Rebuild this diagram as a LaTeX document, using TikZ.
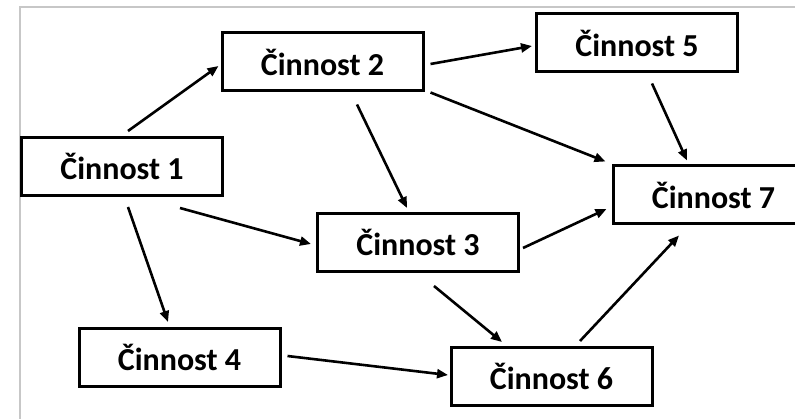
\documentclass[tikz,border=0pt]{standalone}
\usepackage{fontspec}
\setmainfont{Carlito}
\usetikzlibrary{arrows.meta}
\begin{document}
\begin{tikzpicture}[x=1pt,y=-1pt,
  actbox/.style={draw=black,line width=3pt,fill=white,minimum width=201pt,
    minimum height=58pt,inner sep=0pt,font=\fontsize{32}{38}\selectfont\bfseries},
  link/.style={draw=black,line width=2.6pt,-{Triangle[length=11pt,width=9pt]}},
  frameline/.style={draw=black!22,line width=1.6pt}]
  \useasboundingbox (0,0) rectangle (795,419);
  \fill[white] (0,0) rectangle (795,419);
  % outer frame (top and left edges)
  \coordinate (fr1) at (20,419);
  \coordinate (fr2) at (20,7);
  \coordinate (fr3) at (795,7);
  \draw[frameline] (fr1) -- (fr2) -- (fr3);

  % activities
  \node[actbox] (c1) at (122,166.5) {Činnost 1};
  \node[actbox] (c2) at (322.5,62) {Činnost 2};
  \node[actbox] (c3) at (418,242.5) {Činnost 3};
  \node[actbox] (c4) at (179.5,357.5) {Činnost 4};
  \node[actbox] (c5) at (637,43) {Činnost 5};
  \node[actbox] (c6) at (551.5,376.5) {Činnost 6};
  \node[actbox] (c7) at (713.5,195) {Činnost 7};

  % dependencies
  \draw[link] ([shift={(6,-5)}]c1.north) -- ([shift={(-2,4)}]c2.west);
  \draw[link] ([shift={(6,10)}]c1.south) -- ([shift={(-11.5,-5)}]c4.north);
  \draw[link] ([shift={(58,11)}]c1.south) -- ([shift={(-5,1.5)}]c3.west);
  \draw[link] ([shift={(6,2)}]c2.east) -- ([shift={(-3,3)}]c5.west);
  \draw[link] ([shift={(6,0)}]c2.south east) -- ([shift={(-6,-3)}]c7.north west);
  \draw[link] ([shift={(34.5,12)}]c2.south) -- ([shift={(-11,-4)}]c3.north);
  \draw[link] ([shift={(15,10)}]c5.south) -- ([shift={(-26.5,-4)}]c7.north);
  \draw[link] ([shift={(3,5.5)}]c3.east) -- ([shift={(-5,14)}]c7.west);
  \draw[link] ([shift={(16,13)}]c3.south) -- ([shift={(-49.5,-4)}]c6.north);
  \draw[link] ([shift={(6,-1.5)}]c4.east) -- ([shift={(-1.5,-1.5)}]c6.west);
  \draw[link] ([shift={(28.5,-5)}]c6.north) -- ([shift={(-34.5,10)}]c7.south);
\end{tikzpicture}
\end{document}
